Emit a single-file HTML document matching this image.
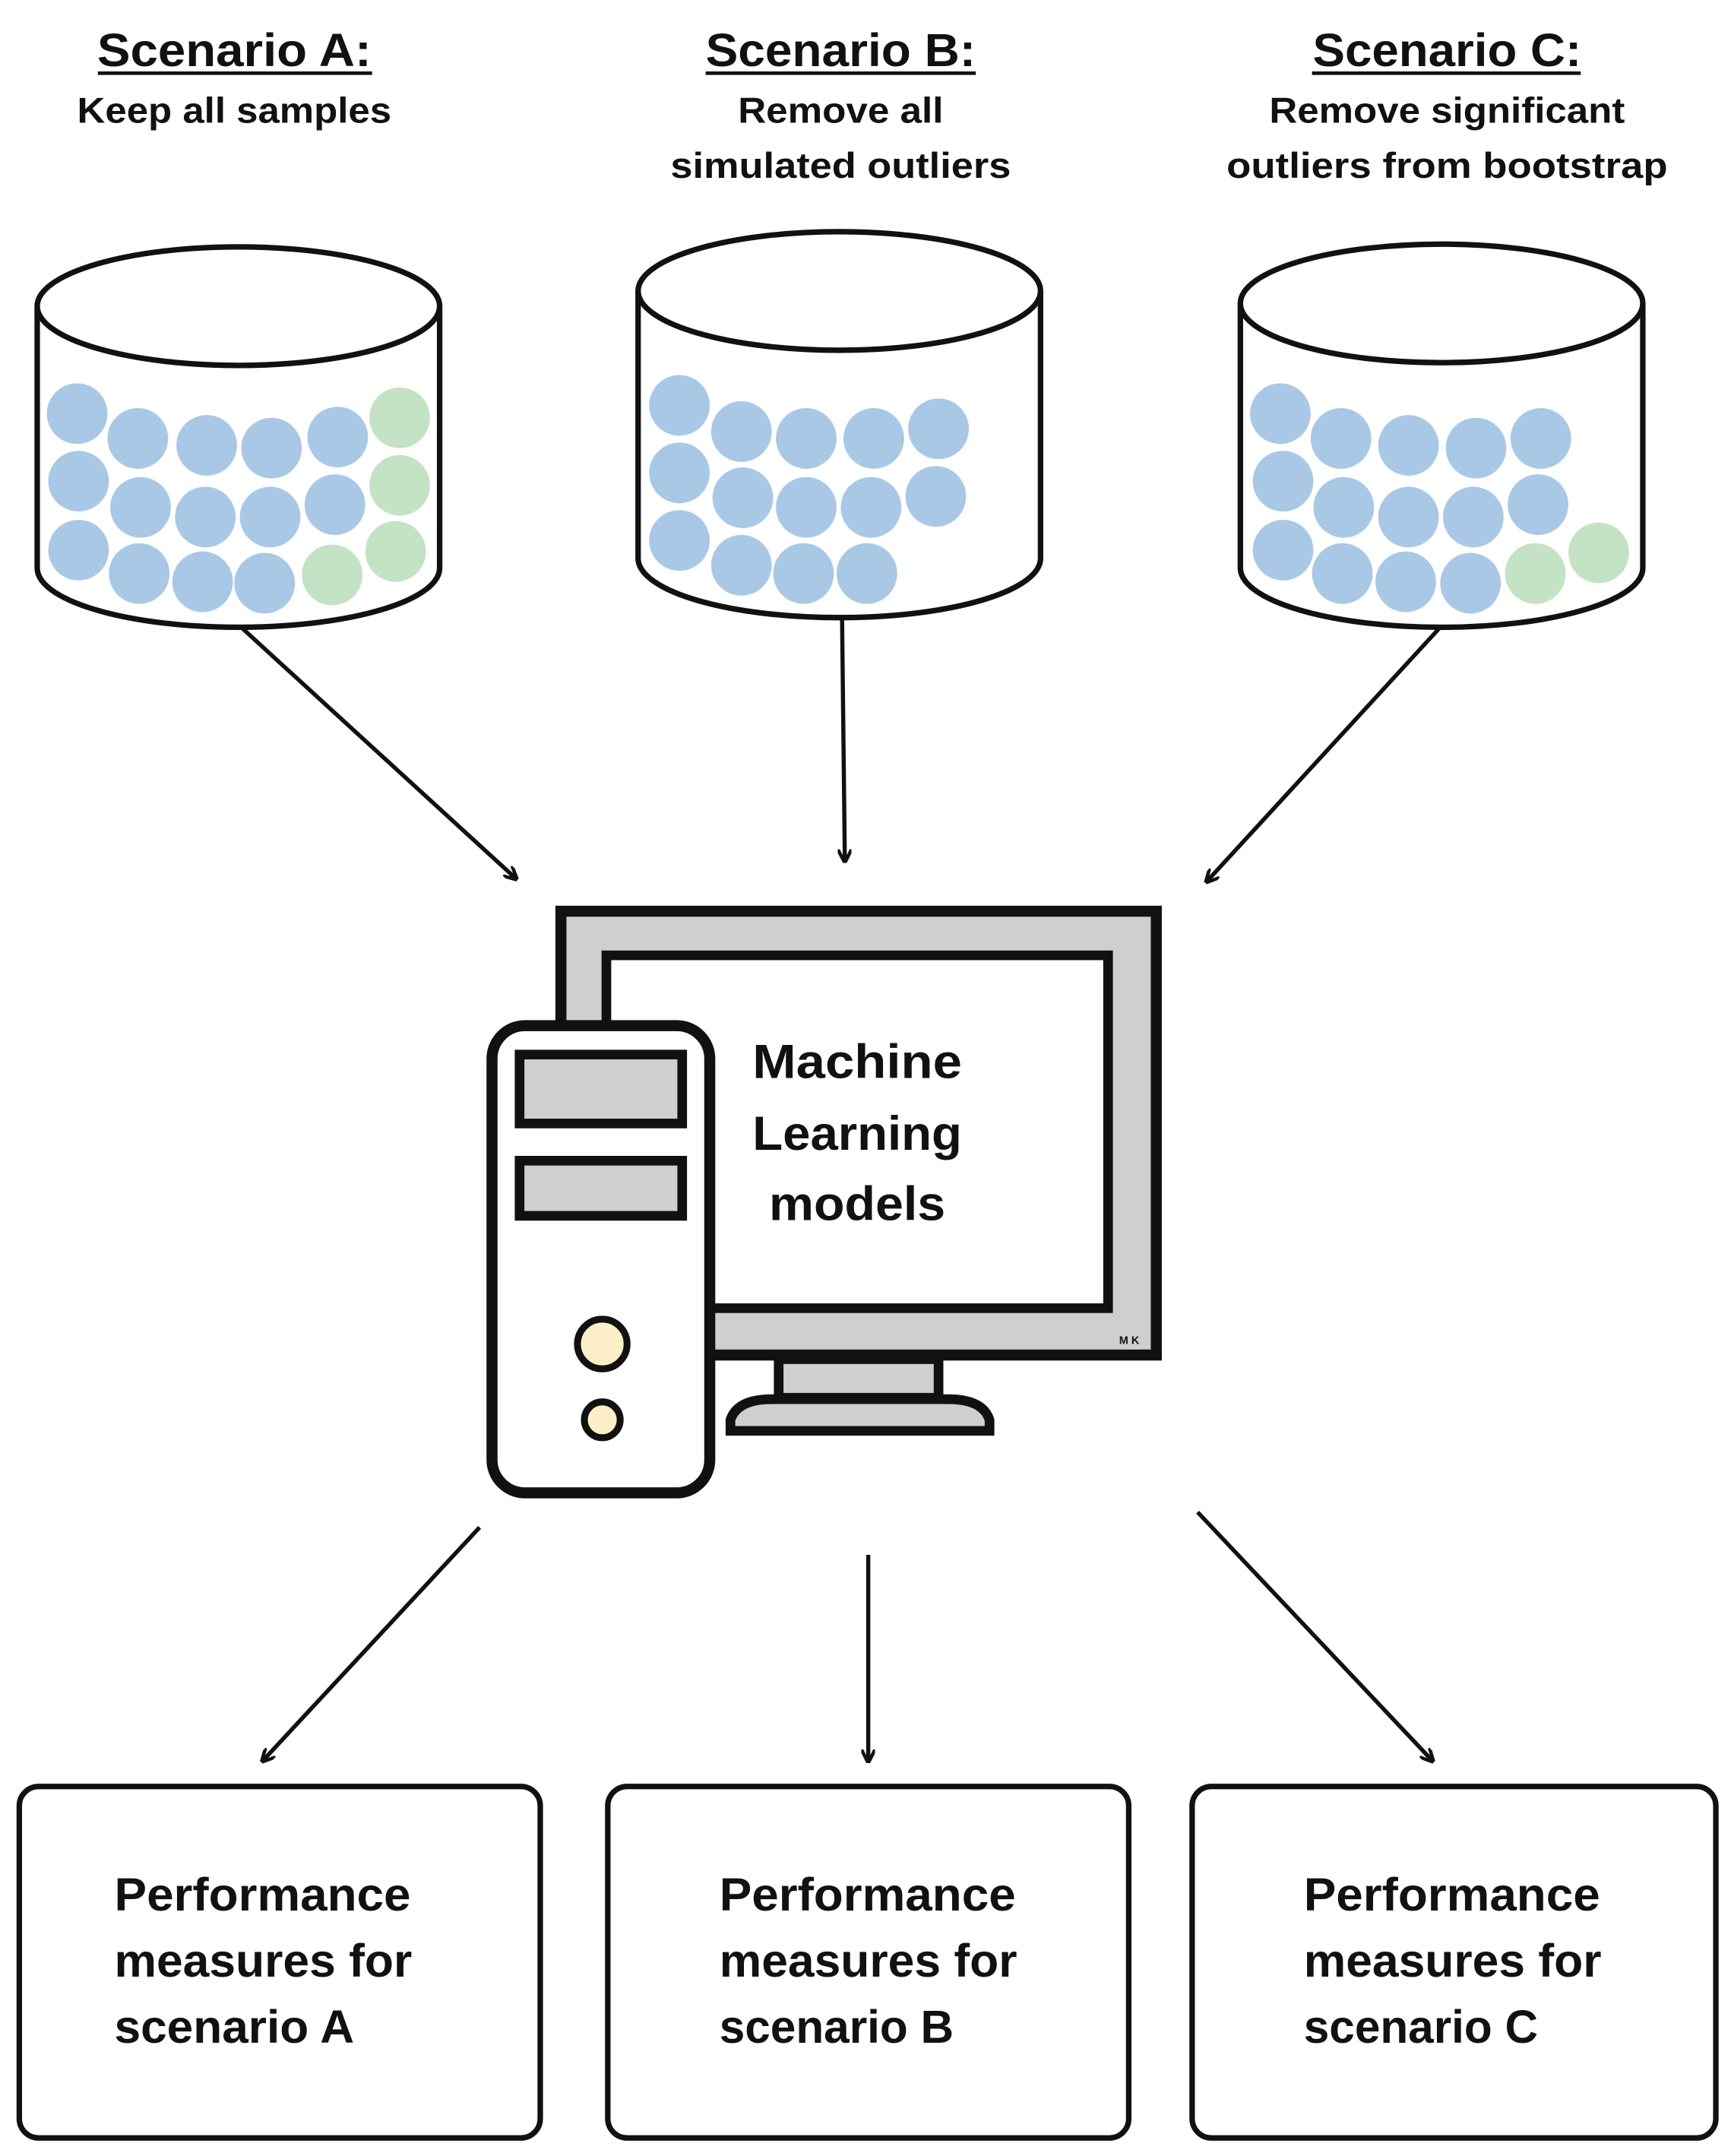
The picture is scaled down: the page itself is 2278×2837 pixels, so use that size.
<!DOCTYPE html>
<html><head><meta charset="utf-8"><style>
html,body{margin:0;padding:0;background:#fff;}
svg{display:block;}
text{font-family:"Liberation Sans",sans-serif;font-weight:bold;fill:#111;}
</style></head><body>
<svg width="2278" height="2837" viewBox="0 0 1256 1564" xmlns="http://www.w3.org/2000/svg">
<defs>
<marker id="ah" markerWidth="10" markerHeight="10" refX="8" refY="5" orient="auto" markerUnits="userSpaceOnUse">
<path d="M0,0 L10,5 L0,10" fill="none" stroke="#111" stroke-width="2.5"/>
</marker>
</defs>
<!-- titles -->
<g text-anchor="middle">
<text x="170" y="48" font-size="34" textLength="199" lengthAdjust="spacingAndGlyphs">Scenario A:</text>
<line x1="71" y1="53" x2="270" y2="53" stroke="#111" stroke-width="2.5"/>
<text x="170" y="89" font-size="26" textLength="228" lengthAdjust="spacingAndGlyphs">Keep all samples</text>
<text x="610" y="48" font-size="34" textLength="196" lengthAdjust="spacingAndGlyphs">Scenario B:</text>
<line x1="512" y1="53" x2="708" y2="53" stroke="#111" stroke-width="2.5"/>
<text x="610" y="89" font-size="26" textLength="149" lengthAdjust="spacingAndGlyphs">Remove all</text>
<text x="610" y="129" font-size="26" textLength="247" lengthAdjust="spacingAndGlyphs">simulated outliers</text>
<text x="1050" y="48" font-size="34" textLength="195" lengthAdjust="spacingAndGlyphs">Scenario C:</text>
<line x1="952" y1="53" x2="1147" y2="53" stroke="#111" stroke-width="2.5"/>
<text x="1050" y="89" font-size="26" textLength="258" lengthAdjust="spacingAndGlyphs">Remove significant</text>
<text x="1050" y="129" font-size="26" textLength="320" lengthAdjust="spacingAndGlyphs">outliers from bootstrap</text>
</g>
<!-- cylinders -->
<g fill="none" stroke="#111" stroke-width="4">
<path d="M27,222 L27,412 A146,43 0 0 0 319,412 L319,222"/>
<ellipse cx="173" cy="222" rx="146" ry="43"/>
<path d="M463,211 L463,405 A146,43 0 0 0 755,405 L755,211"/>
<ellipse cx="609" cy="211" rx="146" ry="43"/>
<path d="M900,220 L900,412 A146,43 0 0 0 1192,412 L1192,220"/>
<ellipse cx="1046" cy="220" rx="146" ry="43"/>
</g>
<g fill="#a9c8e6">
<circle cx="56" cy="300" r="22"/><circle cx="100" cy="318" r="22"/><circle cx="150" cy="323" r="22"/><circle cx="197" cy="325" r="22"/><circle cx="245" cy="317" r="22"/>
<circle cx="57" cy="349" r="22"/><circle cx="102" cy="368" r="22"/><circle cx="149" cy="375" r="22"/><circle cx="196" cy="375" r="22"/><circle cx="243" cy="366" r="22"/>
<circle cx="57" cy="399" r="22"/><circle cx="101" cy="416" r="22"/><circle cx="147" cy="422" r="22"/><circle cx="192" cy="423" r="22"/>
<circle cx="493" cy="294" r="22"/><circle cx="538" cy="313" r="22"/><circle cx="585" cy="318" r="22"/><circle cx="634" cy="318" r="22"/><circle cx="681" cy="311" r="22"/>
<circle cx="493" cy="343" r="22"/><circle cx="539" cy="361" r="22"/><circle cx="585" cy="368" r="22"/><circle cx="632" cy="368" r="22"/><circle cx="679" cy="360" r="22"/>
<circle cx="493" cy="392" r="22"/><circle cx="538" cy="410" r="22"/><circle cx="583" cy="416" r="22"/><circle cx="629" cy="416" r="22"/>
<circle cx="929" cy="300" r="22"/><circle cx="973" cy="318" r="22"/><circle cx="1022" cy="323" r="22"/><circle cx="1071" cy="325" r="22"/><circle cx="1118" cy="318" r="22"/>
<circle cx="931" cy="349" r="22"/><circle cx="975" cy="368" r="22"/><circle cx="1022" cy="375" r="22"/><circle cx="1069" cy="375" r="22"/><circle cx="1116" cy="366" r="22"/>
<circle cx="931" cy="399" r="22"/><circle cx="974" cy="416" r="22"/><circle cx="1020" cy="422" r="22"/><circle cx="1067" cy="423" r="22"/>
</g>
<g fill="#c4e2c4">
<circle cx="290" cy="303" r="22"/><circle cx="290" cy="352" r="22"/><circle cx="241" cy="417" r="22"/><circle cx="287" cy="400" r="22"/>
<circle cx="1114" cy="416" r="22"/><circle cx="1160" cy="401" r="22"/>
</g>
<!-- arrows -->
<g stroke="#111" stroke-width="3" marker-end="url(#ah)">
<line x1="175" y1="455" x2="374" y2="637"/>
<line x1="611" y1="448" x2="613" y2="624"/>
<line x1="1045" y1="455" x2="876" y2="639"/>
<line x1="348" y1="1108" x2="191" y2="1277"/>
<line x1="630" y1="1128" x2="630" y2="1277"/>
<line x1="869" y1="1097" x2="1039" y2="1277"/>
</g>
<!-- monitor -->
<rect x="407" y="661" width="432" height="322" fill="#d0cfcf" stroke="#111" stroke-width="8"/>
<rect x="440" y="693" width="364" height="256" fill="#fff" stroke="#111" stroke-width="7"/>
<text x="812" y="975" font-size="8" font-weight="normal" fill="#777">M K</text>
<rect x="565" y="986" width="116" height="28" fill="#d0cfcf" stroke="#111" stroke-width="7"/>
<path d="M530,1038 L530,1030 Q535,1015 560,1015 L688,1015 Q713,1015 718,1030 L718,1038 Z" fill="#d0cfcf" stroke="#111" stroke-width="7"/>
<!-- tower -->
<rect x="357" y="744" width="158" height="339" rx="24" fill="#fff" stroke="#111" stroke-width="8"/>
<rect x="377" y="765" width="118" height="50" fill="#d0cfcf" stroke="#111" stroke-width="7"/>
<rect x="377" y="842" width="118" height="40" fill="#d0cfcf" stroke="#111" stroke-width="7"/>
<circle cx="437" cy="975" r="18" fill="#fcefc8" stroke="#111" stroke-width="5"/>
<circle cx="437" cy="1030" r="13" fill="#fcefc8" stroke="#111" stroke-width="5"/>
<g text-anchor="middle" font-size="35">
<text x="622" y="782" textLength="152" lengthAdjust="spacingAndGlyphs">Machine</text>
<text x="622" y="834" textLength="152" lengthAdjust="spacingAndGlyphs">Learning</text>
<text x="622" y="885" textLength="128" lengthAdjust="spacingAndGlyphs">models</text>
</g>
<!-- boxes -->
<g fill="#fff" stroke="#111" stroke-width="4">
<rect x="14" y="1296" width="378" height="255" rx="14"/>
<rect x="441" y="1296" width="378" height="255" rx="14"/>
<rect x="865" y="1296" width="380" height="255" rx="14"/>
</g>
<g font-size="34" lengthAdjust="spacingAndGlyphs">
<text x="83" y="1386" textLength="215" lengthAdjust="spacingAndGlyphs">Performance</text><text x="83" y="1434" textLength="216" lengthAdjust="spacingAndGlyphs">measures for</text><text x="83" y="1482" textLength="174" lengthAdjust="spacingAndGlyphs">scenario A</text>
<text x="522" y="1386" textLength="215" lengthAdjust="spacingAndGlyphs">Performance</text><text x="522" y="1434" textLength="216" lengthAdjust="spacingAndGlyphs">measures for</text><text x="522" y="1482" textLength="170" lengthAdjust="spacingAndGlyphs">scenario B</text>
<text x="946" y="1386" textLength="215" lengthAdjust="spacingAndGlyphs">Performance</text><text x="946" y="1434" textLength="216" lengthAdjust="spacingAndGlyphs">measures for</text><text x="946" y="1482" textLength="170" lengthAdjust="spacingAndGlyphs">scenario C</text>
</g>
</svg>
</body></html>
